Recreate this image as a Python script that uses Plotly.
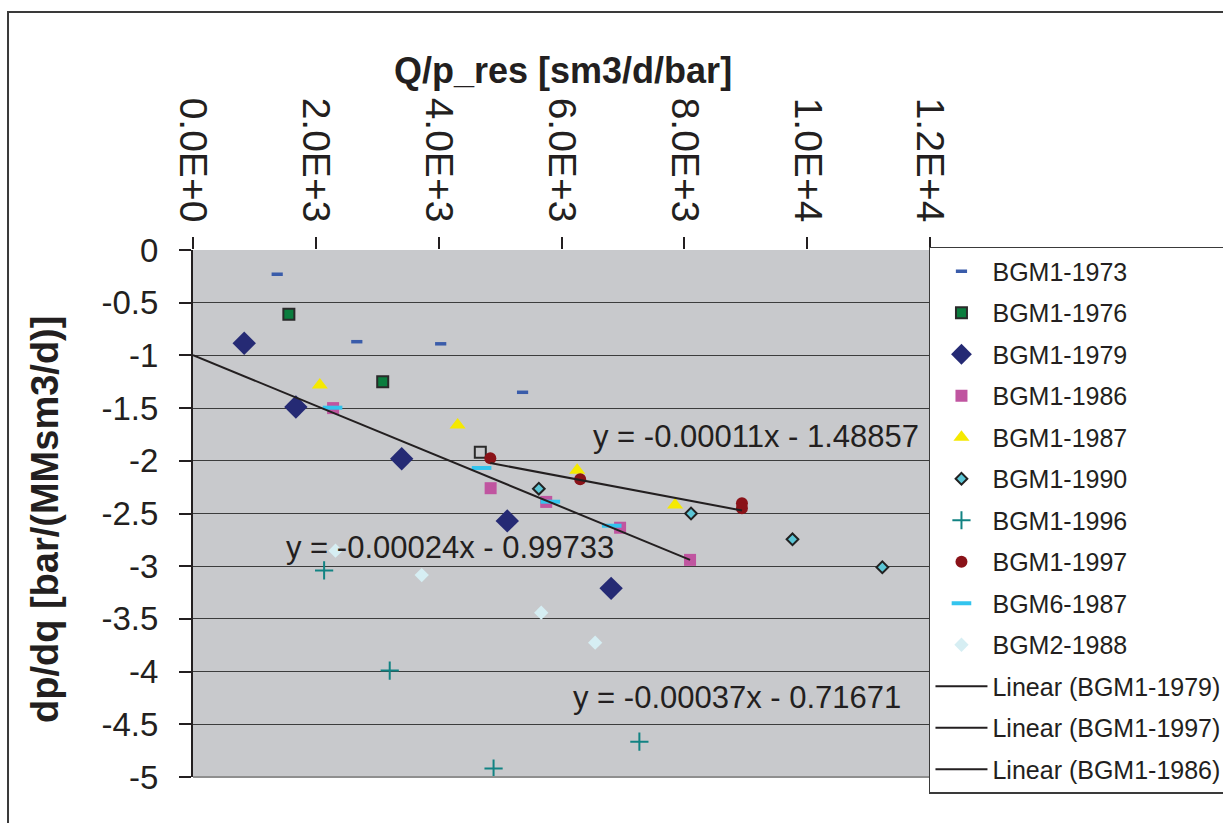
import numpy as np
import plotly.graph_objects as go

# ---------------- data ----------------
x_1973 = [1371, 2667, 4033, 5366]
y_1973 = [-0.23, -0.87, -0.89, -1.35]

x_1976 = [1561, 3089, 4678]
y_1976 = [-0.61, -1.25, -1.92]

x_1979 = [834, 1675, 3398, 5117, 6808]
y_1979 = [-0.885, -1.49, -1.98, -2.57, -3.21]

x_1986 = [2281, 4846, 5751, 6954, 8093]
y_1986 = [-1.50, -2.26, -2.39, -2.635, -2.94]

x_1987 = [2065, 4309, 6255, 7849]
y_1987 = [-1.28, -1.66, -2.09, -2.42]

x_1990 = [5631, 8109, 9761, 11224]
y_1990 = [-2.265, -2.50, -2.745, -3.01]

x_1996 = [2135, 3203, 4894, 7268]
y_1996 = [-3.04, -3.99, -4.92, -4.665]

x_1997 = [4841, 6304, 8938, 8938]
y_1997 = [-1.976, -2.176, -2.403, -2.451]

x_bgm6_1987 = [2272, 4699, 5818, 6818]
y_bgm6_1987 = [-1.496, -2.068, -2.388, -2.616]

x_bgm2_1988 = [2320, 3724, 5670, 6548]
y_bgm2_1988 = [-2.853, -3.084, -3.441, -3.726]

# trendline coefficients (slope, intercept) as printed on the chart
trend_1979 = (-0.00037, -0.71671)
trend_1997 = (-0.00011, -1.48857)
trend_1986 = (-0.00024, -0.99733)

x_tickvals = [0, 2000, 4000, 6000, 8000, 10000, 12000]
x_ticktext = ["0.0E+0", "2.0E+3", "4.0E+3", "6.0E+3", "8.0E+3", "1.0E+4", "1.2E+4"]
y_tickvals = [0, -0.5, -1, -1.5, -2, -2.5, -3, -3.5, -4, -4.5, -5]
y_ticktext = ["0", "-0.5", "-1", "-1.5", "-2", "-2.5", "-3", "-3.5", "-4", "-4.5", "-5"]

FONT = "Liberation Sans, Arial, sans-serif"
TXT = "#231f20"

fig = go.Figure()


def add_pts(name, xs, ys, marker):
    fig.add_trace(go.Scatter(x=xs, y=ys, mode="markers", name=name,
                             marker=marker, legendgroup=name))


add_pts("BGM1-1973", x_1973, y_1973,
        dict(symbol="line-ew", size=8, line=dict(width=3.5, color="#3a5caa")))
add_pts("BGM1-1976", x_1976, y_1976,
        dict(symbol="square", size=11,
             color=["#0b7d3e", "#0b7d3e", "rgba(0,0,0,0)"],
             line=dict(width=2, color="#2a2a2a")))
add_pts("BGM1-1979", x_1979, y_1979,
        dict(symbol="diamond", size=18, color="#252a74", line=dict(width=0)))
add_pts("BGM1-1986", x_1986, y_1986,
        dict(symbol="square", size=12, color="#c055a0", line=dict(width=0)))
add_pts("BGM1-1987", x_1987, y_1987,
        dict(symbol="triangle-up", size=14, color="#f5e900", line=dict(width=0)))
add_pts("BGM1-1990", x_1990, y_1990,
        dict(symbol="diamond", size=9, color="#5cc6d6", line=dict(width=2, color="#222222")))
add_pts("BGM1-1996", x_1996, y_1996,
        dict(symbol="cross-thin", size=13, line=dict(width=2, color="#128383")))
add_pts("BGM1-1997", x_1997, y_1997,
        dict(symbol="circle", size=12, color="#8a1218", line=dict(width=0)))
add_pts("BGM6-1987", x_bgm6_1987, y_bgm6_1987,
        dict(symbol="line-ew", size=14, line=dict(width=4, color="#33c4ee")))
add_pts("BGM2-1988", x_bgm2_1988, y_bgm2_1988,
        dict(symbol="diamond", size=11, color="#d6eef3", line=dict(width=0)))

# trendlines
line_style = dict(color="#231f20", width=2)
# Linear (BGM1-1979) appears only in the legend of the reference
fig.add_trace(go.Scatter(x=[None], y=[None], mode="lines", name="Linear (BGM1-1979)",
                         line=line_style, legendgroup="l1979"))
xl97 = np.array([min(x_1997), max(x_1997)], dtype=float)
fig.add_trace(go.Scatter(x=xl97, y=trend_1997[0] * xl97 + trend_1997[1], mode="lines",
                         name="Linear (BGM1-1997)", line=line_style, legendgroup="l1997"))
xl86 = np.array([0.0, max(x_1986)])
fig.add_trace(go.Scatter(x=xl86, y=trend_1986[0] * xl86 + trend_1986[1], mode="lines",
                         name="Linear (BGM1-1986)", line=line_style, legendgroup="l1986"))


def eq_text(c):
    return "y = %.5fx - %.5f" % (c[0], -c[1])


ann_font = dict(family=FONT, size=31, color=TXT)
fig.add_annotation(x=9163, y=-1.765, xref="x", yref="y", text=eq_text(trend_1997),
                   showarrow=False, font=ann_font, xanchor="center", yanchor="middle")
fig.add_annotation(x=4187, y=-2.818, xref="x", yref="y", text=eq_text(trend_1986),
                   showarrow=False, font=ann_font, xanchor="center", yanchor="middle")
fig.add_annotation(x=8862, y=-4.241, xref="x", yref="y", text=eq_text(trend_1979),
                   showarrow=False, font=ann_font, xanchor="center", yanchor="middle")

# axis titles
fig.add_annotation(x=0.502, y=1.3397, xref="paper", yref="paper",
                   text="<b>Q/p_res [sm3/d/bar]</b>", showarrow=False,
                   xanchor="center", yanchor="middle",
                   font=dict(family=FONT, size=36, color=TXT))
fig.add_annotation(x=-0.2008, y=0.4877, xref="paper", yref="paper",
                   text="<b>dp/dq [bar/(MMsm3/d)]</b>", showarrow=False, textangle=-90,
                   xanchor="center", yanchor="middle",
                   font=dict(family=FONT, size=38, color=TXT))

# outer chart border and bottom edge of plot area
fig.add_shape(type="rect", xref="paper", yref="paper", x0=-0.251, y0=-0.25, x1=1.5, y1=1.4516,
              line=dict(color="#3a3a3a", width=2), fillcolor="rgba(0,0,0,0)", layer="below")
fig.add_shape(type="line", xref="paper", yref="paper", x0=0, y0=0, x1=1, y1=0,
              line=dict(color="#8f8f8f", width=2))

fig.update_layout(
    width=1223, height=823,
    margin=dict(l=193, r=293, t=250, b=46, autoexpand=False),
    paper_bgcolor="white",
    plot_bgcolor="#c8c9cc",
    font=dict(family=FONT, color=TXT),
    showlegend=True,
    legend=dict(x=0.9986, y=1.0057, xanchor="left", yanchor="top",
                bgcolor="white", bordercolor="#3a3a3a", borderwidth=1.5,
                font=dict(family=FONT, size=25, color=TXT),
                traceorder="grouped", tracegroupgap=6, itemwidth=52,
                maxheight=700),
    xaxis=dict(range=[0, 12000], side="top", tickmode="array",
               tickvals=x_tickvals, ticktext=x_ticktext, tickangle=90,
               tickfont=dict(family=FONT, size=39, color=TXT),
               ticks="outside", ticklen=12, tickwidth=1.5, tickcolor=TXT,
               ticklabelstandoff=1,
               showgrid=False, zeroline=False, showline=False),
    yaxis=dict(range=[-5, 0], tickmode="array", tickvals=y_tickvals, ticktext=y_ticktext,
               tickfont=dict(family=FONT, size=33, color=TXT),
               ticks="outside", ticklen=12, tickwidth=1.5, tickcolor=TXT,
               ticklabelstandoff=14,
               showgrid=True, gridcolor="#3c3c3c", gridwidth=1.4,
               zeroline=False, showline=True, linecolor=TXT, linewidth=2),
)

fig.write_html("out.html")
